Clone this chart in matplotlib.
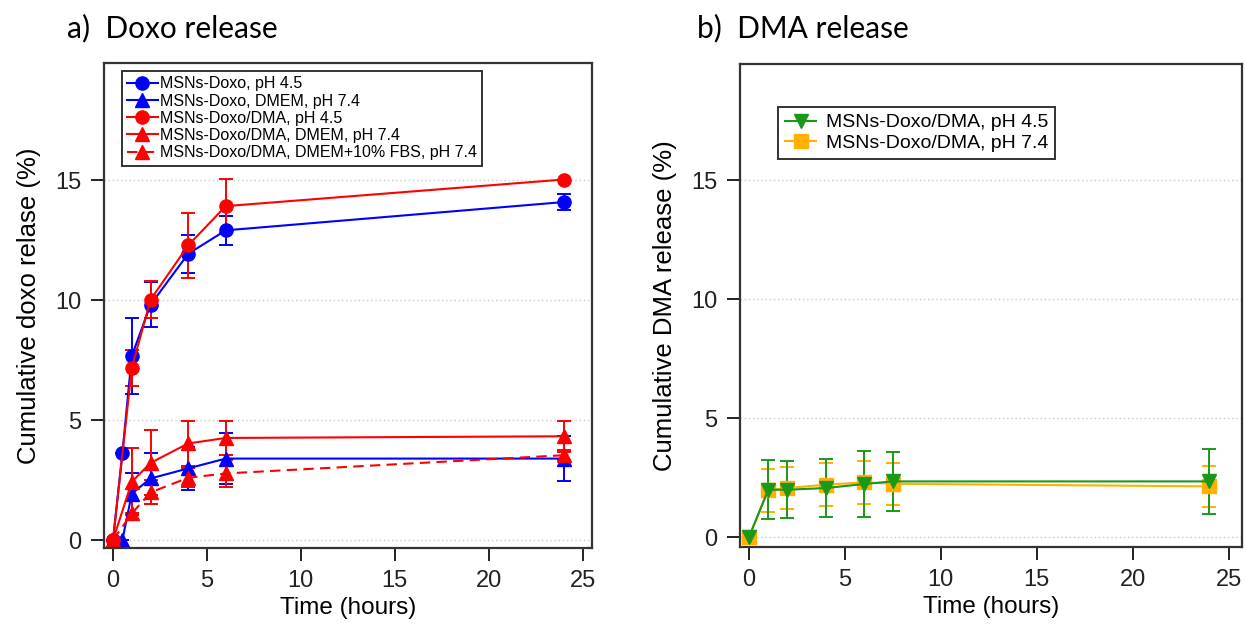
import matplotlib
matplotlib.use("Agg")
import matplotlib.pyplot as plt

# ---- data: a) Doxo release ----
t_doxo = [0, 0.5, 1, 2, 4, 6, 24]
doxo_ph45 = [0, 3.64, 7.68, 9.82, 11.94, 12.92, 14.1]
doxo_ph45_err = [0, 0, 1.6, 0.95, 0.8, 0.6, 0.33]

t_doxo_dmem = [0.5, 1, 2, 4, 6, 24]
doxo_dmem = [0, 1.94, 2.57, 2.99, 3.4, 3.4]
doxo_dmem_err = [0, 0.85, 1.05, 0.9, 1.05, 0.93]

t_dma = [0, 1, 2, 4, 6, 24]
dma_ph45 = [0, 7.19, 10.03, 12.29, 13.93, 15.04]
dma_ph45_err = [0, 0.75, 0.78, 1.35, 1.14, 0]

dma_dmem = [0, 2.43, 3.22, 4.03, 4.26, 4.33]
dma_dmem_err = [0, 1.4, 1.36, 0.95, 0.7, 0.65]

dma_fbs = [0, 1.11, 1.99, 2.6, 2.78, 3.54]
dma_fbs_err = [0, 0, 0.5, 0.4, 0.55, 0.2]

# ---- data: b) DMA release ----
t_rel = [0, 1, 2, 4, 6, 7.5, 24]
rel_ph45 = [0, 1.99, 1.99, 2.06, 2.23, 2.34, 2.34]
rel_ph45_err = [0, 1.25, 1.2, 1.23, 1.4, 1.23, 1.38]
rel_ph74 = [0, 1.96, 2.06, 2.2, 2.3, 2.24, 2.13]
rel_ph74_err = [0, 0.9, 0.88, 0.9, 0.9, 0.88, 0.85]

BLUE = "#0000ff"
RED = "#ff0000"
GREEN = "#1a981a"
ORANGE = "#ffb000"

title_font = "Lato"
arial = "Liberation Sans"

fig = plt.figure(figsize=(12.46, 6.3), dpi=100)
ax1 = fig.add_axes([104/1246, 1-548/630, 488/1246, 485/630])
ax2 = fig.add_axes([740/1246, 1-547/630, 502/1246, 483/630])

eb = dict(capsize=5, elinewidth=1.4, capthick=1.4, lw=1.5, markersize=9.5)

c1 = ax1.errorbar(t_doxo, doxo_ph45, yerr=doxo_ph45_err, color=BLUE, marker="o", **eb)
c2 = ax1.errorbar(t_doxo_dmem, doxo_dmem, yerr=doxo_dmem_err, color=BLUE, marker="^", **eb)
c3 = ax1.errorbar(t_dma, dma_ph45, yerr=dma_ph45_err, color=RED, marker="o", **eb)
c4 = ax1.errorbar(t_dma, dma_dmem, yerr=dma_dmem_err, color=RED, marker="^", **eb)
c5 = ax1.errorbar(t_dma, dma_fbs, yerr=dma_fbs_err, color=RED, marker="^",
                  ls=(0, (5, 3)), **eb)

c7 = ax2.errorbar(t_rel, rel_ph74, yerr=rel_ph74_err, color=ORANGE, marker="s",
                  **dict(eb, markersize=10))
c6 = ax2.errorbar(t_rel, rel_ph45, yerr=rel_ph45_err, color=GREEN, marker="v",
                  **dict(eb, markersize=10.5))

ax1.set_xlim(-0.48, 25.5)
ax1.set_ylim(-0.33, 19.9)
ax2.set_xlim(-0.47, 25.7)
ax2.set_ylim(-0.42, 19.9)

for ax in (ax1, ax2):
    ax.set_xticks([0, 5, 10, 15, 20, 25])
    ax.set_yticks([0, 5, 10, 15])
    ax.yaxis.grid(True, ls=(0, (1, 2)), color="#c8c8c8", lw=1)
    ax.set_axisbelow(True)
    ax.tick_params(direction="out", length=9.5, width=1.4, labelsize=17,
                   colors="#222222")
    ax.tick_params(axis="x", pad=6)
    ax.tick_params(axis="y", pad=7)
    for lab in ax.get_xticklabels() + ax.get_yticklabels():
        lab.set_family(arial)
    for sp in ax.spines.values():
        sp.set_linewidth(1.6)
        sp.set_color("#333333")
    ax.set_xlabel("Time (hours)", fontsize=17.5, family=arial, labelpad=4)

ax1.set_ylabel("Cumulative doxo relase (%)", fontsize=18.5, family=arial, labelpad=10)
ax2.set_ylabel("Cumulative DMA release (%)", fontsize=18.5, family=arial, labelpad=10)

handles1 = [c[0] for c in (c1, c2, c3, c4, c5)]
labels1 = ["MSNs-Doxo, pH 4.5", "MSNs-Doxo, DMEM, pH 7.4", "MSNs-Doxo/DMA, pH 4.5",
           "MSNs-Doxo/DMA, DMEM, pH 7.4", "MSNs-Doxo/DMA, DMEM+10% FBS, pH 7.4"]
leg1 = ax1.legend(handles1, labels1, loc="upper left", bbox_to_anchor=(0.036, 0.984),
                  prop={"family": arial, "size": 11.5}, handlelength=1.9,
                  handletextpad=0.15, labelspacing=0.14, borderpad=0.35,
                  borderaxespad=0, fancybox=False, framealpha=1)
leg1.get_frame().set_edgecolor("#333333")
leg1.get_frame().set_linewidth(1.4)

labels2 = ["MSNs-Doxo/DMA, pH 4.5", "MSNs-Doxo/DMA, pH 7.4"]
leg2 = ax2.legend([c6[0], c7[0]], labels2, loc="upper left", bbox_to_anchor=(0.076, 0.911),
                  prop={"family": arial, "size": 14}, handlelength=1.6,
                  handletextpad=0.5, labelspacing=0.15, borderpad=0.35,
                  borderaxespad=0, fancybox=False, framealpha=1)
leg2.get_frame().set_edgecolor("#333333")
leg2.get_frame().set_linewidth(1.4)

fig.text(67/1246, 1-37/630, "a)  Doxo release", fontsize=21.5, family=title_font, va="baseline")
fig.text(697/1246, 1-37/630, "b)  DMA release", fontsize=21.5, family=title_font, va="baseline")

fig.savefig("out.png", dpi=100)
